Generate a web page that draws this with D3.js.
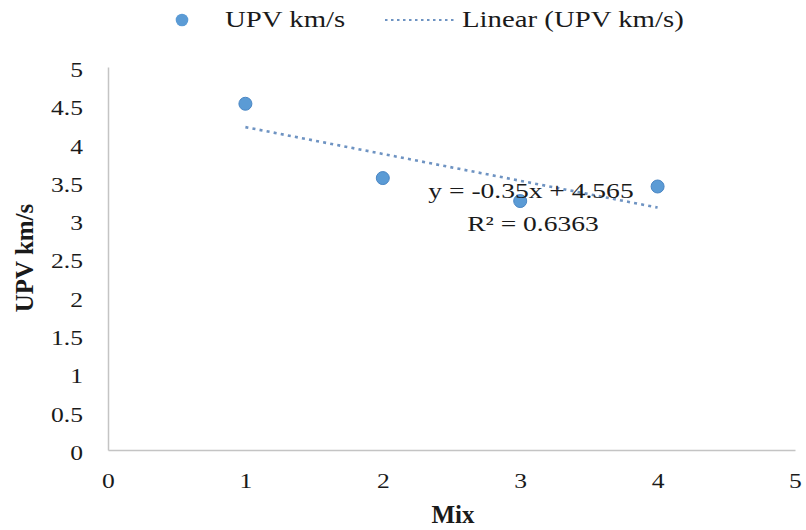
<!DOCTYPE html>
<html>
<head>
<meta charset="utf-8">
<script src="https://cdn.jsdelivr.net/npm/d3@7"></script>
<style>
  body { margin: 0; background: #fff; }
  svg { display: block; font-family: "Liberation Serif", "Times New Roman", serif; }
</style>
</head>
<body>
<svg id="chart" width="806" height="530"></svg>
<script>
// Ultrasonic pulse velocity for each mix
const mixes = [1, 2, 3, 4];
const upv = [4.52, 3.55, 3.25, 3.44];

// Linear trendline fitted to the series
const trendSlope = -0.35;
const trendIntercept = 4.565;
const trendR2 = 0.6363;

const xTicks = [0, 1, 2, 3, 4, 5];
const yTicks = [0, 0.5, 1, 1.5, 2, 2.5, 3, 3.5, 4, 4.5, 5];

const seriesName = "UPV km/s";
const trendName = "Linear (UPV km/s)";
const xTitle = "Mix";
const yTitle = "UPV km/s";

const svg = d3.select("#chart");
const plotLeft = 108, plotRight = 795, plotTop = 67, plotBottom = 450;

const x = d3.scaleLinear().domain([0, 5]).range([plotLeft, plotRight]);
const y = d3.scaleLinear().domain([0, 5]).range([plotBottom, plotTop]);

const blue = "#5b9bd5";
const trendColor = "#6e93c2";
const axisColor = "#c4c4c4";
const ink = "#1a1a1a";
// body text is set in a slightly wide serif
const wide = 1.28;

// Axes: lines only, labels without tick marks
const yAxis = svg.append("g")
  .attr("transform", `translate(${plotLeft},0)`)
  .call(d3.axisLeft(y).tickValues(yTicks).tickSize(0).tickPadding(19.5).tickFormat(d3.format("")));
yAxis.select(".domain").attr("stroke", axisColor).attr("stroke-width", 1.5);
yAxis.selectAll("text")
  .attr("font-size", 20).attr("fill", ink).attr("dy", "0.47em")
  .attr("font-family", "Liberation Serif, serif")
  .attr("transform", `scale(${wide},1)`);

const xAxis = svg.append("g")
  .attr("transform", `translate(0,${plotBottom})`)
  .call(d3.axisBottom(x).tickValues(xTicks).tickSize(0).tickPadding(24).tickFormat(d3.format("d")));
xAxis.select(".domain").attr("stroke", axisColor).attr("stroke-width", 1.5);
xAxis.selectAll("text")
  .attr("font-size", 20).attr("fill", ink)
  .attr("font-family", "Liberation Serif, serif")
  .attr("transform", `scale(${wide},1)`);

// Trendline across the data range
const xExtent = d3.extent(mixes);
svg.append("line")
  .attr("x1", x(xExtent[0])).attr("y1", y(trendSlope * xExtent[0] + trendIntercept))
  .attr("x2", x(xExtent[1])).attr("y2", y(trendSlope * xExtent[1] + trendIntercept))
  .attr("stroke", trendColor).attr("stroke-width", 2.6)
  .attr("stroke-dasharray", "3 4.2").attr("stroke-linecap", "butt");

// Data points
svg.append("g").selectAll("circle")
  .data(mixes.map((m, i) => ({ m, v: upv[i] })))
  .join("circle")
  .attr("cx", d => x(d.m))
  .attr("cy", d => y(d.v))
  .attr("r", 6.5)
  .attr("fill", blue)
  .attr("stroke", "#4a86c4").attr("stroke-width", 1);

// Helper for horizontally widened text
function wideText(px, py, str, size, anchor) {
  return svg.append("text")
    .attr("transform", `translate(${px},${py}) scale(${wide},1)`)
    .attr("text-anchor", anchor || "start")
    .attr("font-size", size).attr("fill", ink)
    .text(str);
}

// Trendline equation
const fmtSlope = trendSlope < 0 ? `-${Math.abs(trendSlope)}` : `${trendSlope}`;
wideText(531, 198, `y = ${fmtSlope}x + ${trendIntercept}`, 21.5, "middle");
wideText(533, 231, `R² = ${trendR2}`, 21.5, "middle");

// Axis titles
svg.append("text")
  .attr("x", 453).attr("y", 523)
  .attr("text-anchor", "middle").attr("font-size", 25).attr("font-weight", "bold")
  .attr("fill", ink)
  .text(xTitle);
svg.append("text")
  .attr("transform", `translate(33,258) rotate(-90)`)
  .attr("text-anchor", "middle").attr("font-size", 25).attr("font-weight", "bold")
  .attr("fill", ink)
  .text(yTitle);

// Legend
const legend = svg.append("g");
legend.append("circle").attr("cx", 182).attr("cy", 20).attr("r", 6.3)
  .attr("fill", blue);
wideText(225, 27, seriesName, 22.5);
legend.append("line").attr("x1", 385).attr("x2", 456).attr("y1", 20).attr("y2", 20)
  .attr("stroke", trendColor).attr("stroke-width", 2.2).attr("stroke-dasharray", "2.5 3.5");
wideText(462, 27, trendName, 22.5);
</script>
</body>
</html>
